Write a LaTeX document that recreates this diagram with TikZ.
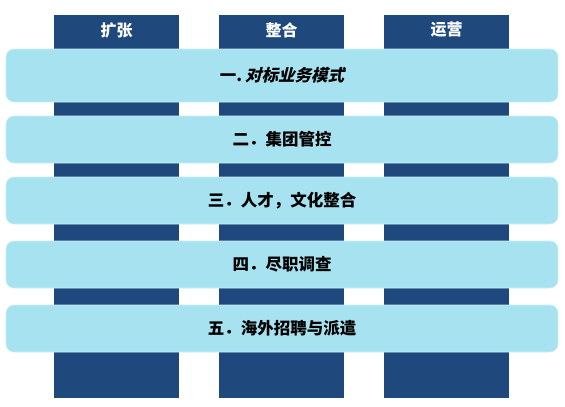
\documentclass[tikz,border=0pt]{standalone}
\usepackage{fontspec}
\newfontfamily\cjk{Noto Sans CJK SC}
\newfontfamily\cjkit[FakeSlant=0.25]{Noto Sans CJK SC Bold}
\usetikzlibrary{positioning}
\definecolor{darkblue}{RGB}{31,73,125}
\definecolor{lightblue}{RGB}{166,226,240}
\tikzstyle{column}=[rectangle,fill=darkblue,minimum width=125pt,minimum height=383pt,inner sep=0pt]
\tikzstyle{header}=[text=white,font=\cjk\bfseries\fontsize{16}{16}\selectfont,inner sep=0pt]
\tikzstyle{bar}=[rectangle,rounded corners=8pt,fill=lightblue,draw=lightblue!60!white,line width=0.6pt,minimum width=552pt,inner sep=0pt,font=\cjk\bfseries\fontsize{16.5}{16.5}\selectfont]

\begin{document}
\begin{tikzpicture}[x=1pt,y=-1pt]
    \useasboundingbox (0,0) rectangle (565,407);
    \foreach \i/\name in {1/扩张,2/整合,3/运营} {
        \node[column] (c\i) at (116.5+165*\i-165, 206.5) {};
        \node[header] (h\i) at (116.5+165*\i-165, 30) {\name};
    };
    \node[bar,minimum height=53pt] (b1) at (282,75.5) {一.\,{\cjkit 对标业务模式}};
    \node[bar,minimum height=47pt] (b2) at (282,139.5) {二．集团管控};
    \node[bar,minimum height=47pt] (b3) at (282,200.5) {三．人才，文化整合};
    \node[bar,minimum height=47pt] (b4) at (282,264.5) {四．尽职调查};
    \node[bar,minimum height=47pt] (b5) at (282,328.5) {五．海外招聘与派遣};
\end{tikzpicture}
\end{document}
